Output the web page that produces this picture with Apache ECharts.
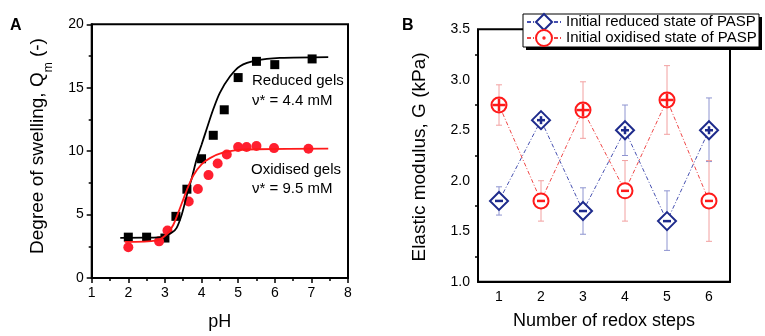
<!DOCTYPE html>
<html>
<head>
<meta charset="utf-8">
<script src="https://cdn.jsdelivr.net/npm/echarts@6/dist/echarts.min.js"></script>
<style>
  html, body { margin: 0; padding: 0; background: #fff; }
  #chart { width: 765px; height: 336px; }
</style>
</head>
<body>
<div id="chart"></div>
<script>
// ---- panel A : degree of swelling vs pH ----
var reducedGels = [[2.0, 3.22], [2.5, 3.22], [3.0, 3.15], [3.3, 4.86], [3.6, 7.0], [4.0, 9.4],
                   [4.32, 11.25], [4.62, 13.26], [5.0, 15.8], [5.5, 17.08], [6.0, 16.82], [7.02, 17.27]];
var oxidisedGels = [[2.0, 2.42], [2.84, 2.89], [3.07, 3.75], [3.65, 6.03], [3.9, 7.02], [4.19, 8.11],
                    [4.44, 9.02], [4.69, 9.73], [5.0, 10.33], [5.23, 10.33], [5.5, 10.4], [5.98, 10.24], [6.92, 10.19]];
// fitted curves
var reducedFit = [[1.78, 3.17], [2.5, 3.18], [2.96, 3.25], [3.2, 3.6], [3.32, 3.95], [3.46, 5.0], [3.6, 6.55],
                  [3.73, 7.85], [3.87, 9.4], [4.0, 10.5], [4.14, 11.75], [4.32, 13.3], [4.5, 14.6], [4.78, 15.9],
                  [5.05, 16.7], [5.5, 17.15], [6.14, 17.35], [7.46, 17.42]];
var oxidisedFit = [[1.9, 2.85], [2.78, 2.97], [3.05, 3.45], [3.23, 4.2], [3.41, 5.5], [3.6, 6.95], [3.78, 8.1],
                   [4.0, 8.95], [4.23, 9.45], [4.6, 9.9], [5.05, 10.1], [5.5, 10.15], [7.46, 10.2]];

// ---- panel B : elastic modulus vs redox steps ----
var redoxSteps = ['1', '2', '3', '4', '5', '6'];
var reducedStart = [1.8, 2.6, 1.7, 2.5, 1.6, 2.5];
var reducedLow = [1.66, 2.53, 1.47, 2.25, 1.31, 2.19];
var reducedHigh = [1.94, 2.67, 1.93, 2.75, 1.90, 2.82];
var reducedSign = [-1, 1, -1, 1, -1, 1];
var oxidisedStart = [2.75, 1.8, 2.7, 1.9, 2.8, 1.8];
var oxidisedLow = [2.55, 1.60, 2.42, 1.60, 2.46, 1.40];
var oxidisedHigh = [2.95, 2.00, 2.98, 2.20, 3.14, 2.20];
var oxidisedSign = [1, -1, 1, -1, 1, -1];

var FONT = 'Liberation Sans, Arial, sans-serif';
var BLUE = '#1e2b8c', RED = '#ff1a1a';

function errData(low, high) {
  return low.map(function (v, i) { return [i, v, high[i]]; });
}
function markData(vals, sign) {
  return vals.map(function (v, i) { return [i, v, sign[i]]; });
}

function errorBar(params, api) {
  var x = api.value(0);
  var lo = api.coord([x, api.value(1)]);
  var hi = api.coord([x, api.value(2)]);
  var w = 3;
  var st = { stroke: api.visual('color'), lineWidth: 1 };
  return { type: 'group', children: [
    { type: 'line', shape: { x1: lo[0], y1: lo[1], x2: hi[0], y2: hi[1] }, style: st },
    { type: 'line', shape: { x1: lo[0] - w, y1: lo[1], x2: lo[0] + w, y2: lo[1] }, style: st },
    { type: 'line', shape: { x1: hi[0] - w, y1: hi[1], x2: hi[0] + w, y2: hi[1] }, style: st }
  ]};
}

function marker(kind) {
  return function (params, api) {
    var c = api.coord([api.value(0), api.value(1)]);
    var col = api.visual('color');
    var kids = [];
    var h;
    if (kind === 'diamond') {
      kids.push({ type: 'polygon', shape: { points: [[c[0], c[1] - 9], [c[0] + 9, c[1]], [c[0], c[1] + 9], [c[0] - 9, c[1]]] },
                  style: { fill: '#fff', stroke: col, lineWidth: 2 } });
      h = 4;
    } else {
      kids.push({ type: 'circle', shape: { cx: c[0], cy: c[1], r: 7.5 }, style: { fill: '#fff', stroke: col, lineWidth: 2 } });
      h = api.value(2) > 0 ? 6.5 : 4;
    }
    kids.push({ type: 'line', shape: { x1: c[0] - h, y1: c[1], x2: c[0] + h, y2: c[1] }, style: { stroke: col, lineWidth: 2.5 } });
    if (api.value(2) > 0) {
      kids.push({ type: 'line', shape: { x1: c[0], y1: c[1] - h, x2: c[0], y2: c[1] + h }, style: { stroke: col, lineWidth: 2.5 } });
    }
    return { type: 'group', children: kids };
  };
}

var chart = echarts.init(document.getElementById('chart'));

var axisCommon = {
  axisLine: { lineStyle: { color: '#000', width: 2 } },
  axisTick: { length: 5, lineStyle: { color: '#000', width: 1.5 } },
  minorTick: { show: true, splitNumber: 2, length: 3, lineStyle: { color: '#000', width: 1.5 } },
  axisLabel: { color: '#000', fontSize: 14, fontFamily: FONT, margin: 8 },
  splitLine: { show: false }
};

var option = {
  animation: false,
  backgroundColor: '#fff',
  textStyle: { fontFamily: FONT },
  grid: [
    { left: 91.7, right: 417, top: 24.3, bottom: 55.3, show: true, borderColor: '#000', borderWidth: 2 },
    { left: 478, right: 35, top: 29.3, bottom: 54.3, show: true, borderColor: '#000', borderWidth: 2 }
  ],
  xAxis: [
    Object.assign({}, axisCommon, {
      type: 'value', gridIndex: 0, min: 1, max: 8, interval: 1,
      name: 'pH', nameLocation: 'middle', nameGap: 35,
      nameTextStyle: { fontSize: 18, color: '#000', fontFamily: FONT }
    }),
    Object.assign({}, axisCommon, {
      type: 'category', gridIndex: 1, data: redoxSteps,
      axisTick: { alignWithLabel: true, length: 5, lineStyle: { color: '#000', width: 1.5 } },
      minorTick: { show: false },
      name: 'Number of redox steps', nameLocation: 'middle', nameGap: 30,
      nameTextStyle: { fontSize: 18, color: '#000', fontFamily: FONT }
    })
  ],
  yAxis: [
    Object.assign({}, axisCommon, { type: 'value', gridIndex: 0, min: 0, max: 20, interval: 5 }),
    Object.assign({}, axisCommon, {
      type: 'value', gridIndex: 1, min: 1, max: 3.5, interval: 0.5,
      axisLabel: { color: '#000', fontSize: 14, fontFamily: FONT, margin: 8,
                   formatter: function (v) { return v.toFixed(1); } }
    })
  ],
  legend: {
    orient: 'vertical', left: 526, top: 13, padding: 0, z: 52,
    itemWidth: 34, itemHeight: 20, itemGap: -2,
    textStyle: { fontSize: 15, color: '#000', fontFamily: FONT },
    data: ['Initial reduced state of PASP', 'Initial oxidised state of PASP']
  },
  graphic: [
    { type: 'rect', z: 49, shape: { x: 526, y: 17, width: 236, height: 33 }, style: { fill: '#000' } },
    { type: 'rect', z: 50, shape: { x: 523, y: 14, width: 236, height: 33 }, style: { fill: '#fff', stroke: '#000', lineWidth: 1 } },
    { type: 'text', x: 10, y: 26, style: { text: 'A', font: 'bold 16px ' + FONT, fill: '#000', verticalAlign: 'middle' } },
    { type: 'text', x: 402, y: 26, style: { text: 'B', font: 'bold 16px ' + FONT, fill: '#000', verticalAlign: 'middle' } },
    { type: 'text', x: 38, y: 146, rotation: Math.PI / 2,
      style: { text: '{a|Degree of swelling, Q}{s|m}{a| (-)}', fill: '#000', align: 'center', verticalAlign: 'middle',
               rich: { a: { fontSize: 19, fontFamily: FONT, verticalAlign: 'middle' },
                       s: { fontSize: 12, fontFamily: FONT, verticalAlign: 'middle', padding: [22, 0, 0, 0] } } } },
    { type: 'text', x: 420, y: 157, rotation: Math.PI / 2,
      style: { text: 'Elastic modulus, G (kPa)', font: '19px ' + FONT, fill: '#000', align: 'center', verticalAlign: 'middle' } },
    { type: 'text', x: 252, y: 81, style: { text: 'Reduced gels', font: '15px ' + FONT, fill: '#000', verticalAlign: 'middle' } },
    { type: 'text', x: 252, y: 101, style: { text: 'ν* = 4.4 mM', font: '15px ' + FONT, fill: '#000', verticalAlign: 'middle' } },
    { type: 'text', x: 251, y: 170, style: { text: 'Oxidised gels', font: '15px ' + FONT, fill: '#000', verticalAlign: 'middle' } },
    { type: 'text', x: 252, y: 189, style: { text: 'ν* = 9.5 mM', font: '15px ' + FONT, fill: '#000', verticalAlign: 'middle' } }
  ],
  series: [
    { type: 'line', xAxisIndex: 0, yAxisIndex: 0, data: reducedFit, showSymbol: false, smooth: 0.3,
      lineStyle: { color: '#000', width: 1.8 }, silent: true },
    { type: 'line', xAxisIndex: 0, yAxisIndex: 0, data: oxidisedFit, showSymbol: false, smooth: 0.3,
      lineStyle: { color: RED, width: 1.8 }, silent: true },
    { type: 'scatter', xAxisIndex: 0, yAxisIndex: 0, data: reducedGels, symbol: 'rect', symbolSize: 9,
      itemStyle: { color: '#000', opacity: 1 } },
    { type: 'scatter', xAxisIndex: 0, yAxisIndex: 0, data: oxidisedGels, symbol: 'circle', symbolSize: 10,
      itemStyle: { color: '#ff1f2f', opacity: 1 } },

    { name: 'Initial reduced state of PASP', type: 'line', xAxisIndex: 1, yAxisIndex: 1, data: reducedStart,
      showSymbol: false, symbol: 'emptyDiamond', itemStyle: { color: BLUE },
      lineStyle: { color: '#4650b0', width: 1, type: [4, 2, 1, 2] }, z: 2 },
    { name: 'Initial oxidised state of PASP', type: 'line', xAxisIndex: 1, yAxisIndex: 1, data: oxidisedStart,
      showSymbol: false,
      symbol: 'emptypath://M0,-8A8,8,0,1,1,0,8A8,8,0,1,1,0,-8Z M0,-0.7A0.7,0.7,0,1,1,0,0.7A0.7,0.7,0,1,1,0,-0.7Z',
      itemStyle: { color: RED }, lineStyle: { color: '#f04848', width: 1, type: [4, 2, 1, 2] }, z: 2 },
    { type: 'custom', xAxisIndex: 1, yAxisIndex: 1, data: errData(reducedLow, reducedHigh), renderItem: errorBar,
      itemStyle: { color: '#8e94d0' }, encode: { x: 0, y: [1, 2] }, z: 3 },
    { type: 'custom', xAxisIndex: 1, yAxisIndex: 1, data: errData(oxidisedLow, oxidisedHigh), renderItem: errorBar,
      itemStyle: { color: '#f2a0a0' }, encode: { x: 0, y: [1, 2] }, z: 3 },
    { type: 'custom', xAxisIndex: 1, yAxisIndex: 1, data: markData(reducedStart, reducedSign), renderItem: marker('diamond'),
      itemStyle: { color: BLUE }, encode: { x: 0, y: 1 }, z: 4 },
    { type: 'custom', xAxisIndex: 1, yAxisIndex: 1, data: markData(oxidisedStart, oxidisedSign), renderItem: marker('circle'),
      itemStyle: { color: RED }, encode: { x: 0, y: 1 }, z: 4 }
  ]
};

chart.setOption(option);
</script>
</body>
</html>
